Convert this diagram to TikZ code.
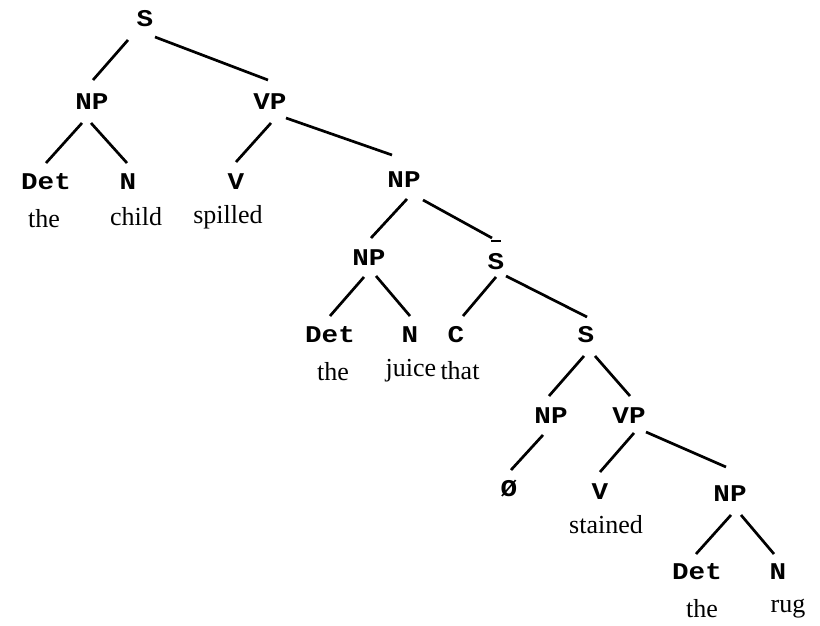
\documentclass[tikz,border=0pt]{standalone}
\usepackage{fontspec}
\setmainfont{Liberation Serif}
\setmonofont{Liberation Mono}[FakeStretch=1.15]
\newcommand\treeedge[4]{\draw[edge] ([shift={#2}]#1.center) -- ([shift={#4}]#3.center);}
\begin{document}
\begin{tikzpicture}[x=1pt,y=-1pt,
  cat/.style={font=\fontsize{24}{26}\selectfont\ttfamily\bfseries, inner sep=0pt},
  word/.style={font=\fontsize{26}{28}\selectfont\rmfamily, inner sep=2pt},
  edge/.style={line width=2.7pt},
  bar/.style={line width=1.6pt}]
\useasboundingbox (0,0) rectangle (820,626);
% categories
\node[cat] (s1) at (145,19) {S};
\node[cat] (np1) at (92,102) {NP};
\node[cat] (vp1) at (270,102) {VP};
\node[cat] (det1) at (46,182) {Det};
\node[cat] (n1) at (128,182) {N};
\node[cat] (v1) at (236,182) {V};
\node[cat] (np2) at (404,180) {NP};
\node[cat] (np3) at (369,258) {NP};
\node[cat] (sbar) at (496,262) {S};
\node[cat] (det2) at (330,335) {Det};
\node[cat] (n2) at (410,335) {N};
\node[cat] (c1) at (456,335) {C};
\node[cat] (s2) at (586,335) {S};
\node[cat] (np4) at (551,416) {NP};
\node[cat] (vp2) at (629,416) {VP};
\node[cat] (null) at (509,489) {Ø};
\node[cat] (v2) at (600,492) {V};
\node[cat] (np5) at (730,494) {NP};
\node[cat] (det3) at (697,572) {Det};
\node[cat] (n3) at (778,572) {N};
\draw[bar] ([shift={(-5,-21)}]sbar.center) -- ([shift={(5,-21)}]sbar.center);
% words
\node[word] (w1) at (44,219) {the};
\node[word] (w2) at (136,217) {child};
\node[word] (w3) at (228,217) {spilled};
\node[word] (w4) at (333,372) {the};
\node[word] (w5) at (411,371) {juice};
\node[word] (w6) at (460,371) {that};
\node[word] (w7) at (606,525) {stained};
\node[word] (w8) at (702,609) {the};
\node[word] (w9) at (788,609) {rug};
% edges
\treeedge{s1}{(-17,21)}{np1}{(1,-22)}
\treeedge{s1}{(10,18)}{vp1}{(-2,-22)}
\treeedge{np1}{(-10,21)}{det1}{(0,-19)}
\treeedge{np1}{(-1,21)}{n1}{(-1,-19)}
\treeedge{vp1}{(1,21)}{v1}{(0,-20)}
\treeedge{vp1}{(16,16)}{np2}{(-12,-25)}
\treeedge{np2}{(3,19)}{np3}{(2,-20)}
\treeedge{np2}{(19,20)}{sbar}{(-4,-24)}
\treeedge{np3}{(-5,19)}{det2}{(0,-19)}
\treeedge{np3}{(7,18)}{n2}{(0,-19)}
\treeedge{sbar}{(0,15)}{c1}{(7,-19)}
\treeedge{sbar}{(10,14)}{s2}{(1,-18)}
\treeedge{s2}{(-2,21)}{np4}{(-2,-20)}
\treeedge{s2}{(9,21)}{vp2}{(1,-20)}
\treeedge{np4}{(-8,19)}{null}{(2,-19)}
\treeedge{vp2}{(5,17)}{v2}{(0,-20)}
\treeedge{vp2}{(17,16)}{np5}{(-4,-27)}
\treeedge{np5}{(1,21)}{det3}{(-1,-18)}
\treeedge{np5}{(11,21)}{n3}{(-4,-18)}
\end{tikzpicture}
\end{document}
